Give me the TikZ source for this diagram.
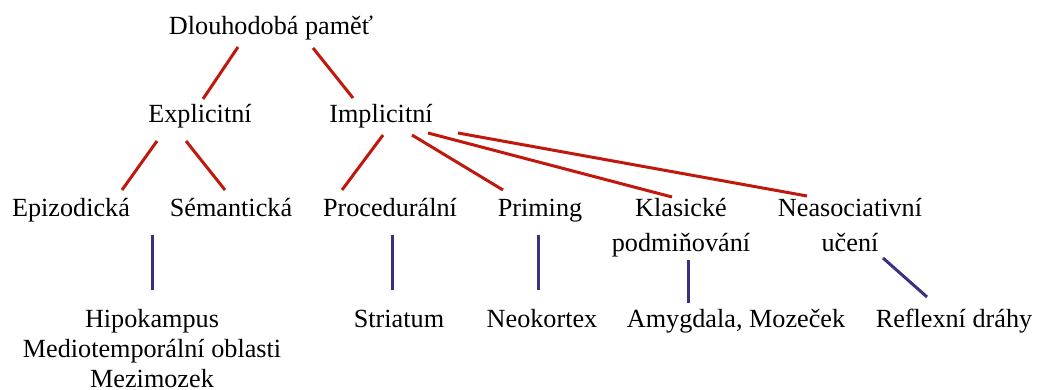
\documentclass[tikz,border=0pt]{standalone}
\usepackage{fontspec}
\setmainfont{Liberation Serif}
\definecolor{treered}{HTML}{C0180C}
\definecolor{areablue}{HTML}{3A3080}
\begin{document}
\begin{tikzpicture}[x=1pt,y=-1pt,
  lbl/.style={anchor=base,inner sep=0pt,align=center,
    font=\fontsize{26.2}{30}\selectfont},
  kind/.style={draw=treered,line width=3pt},
  area/.style={draw=areablue,line width=3pt}]
\useasboundingbox (0,0) rectangle (1037,390);

% memory types (multi-line labels are placed by their last baseline)
\node[lbl] (top)  at (271,35)  {Dlouhodobá paměť};
\node[lbl] (expl) at (200,123) {Explicitní};
\node[lbl] (impl) at (381,123) {Implicitní};
\node[lbl] (epi)  at (71,217)  {Epizodická};
\node[lbl] (sem)  at (231,217) {Sémantická};
\node[lbl] (proc) at (390,217) {Procedurální};
\node[lbl] (prim) at (540,217) {Priming};
\node[lbl] (klas) at (681,252) {Klasické\\[5pt]podmiňování};
\node[lbl] (neas) at (850,252) {Neasociativní\\[5pt]učení};

% brain structures
\node[lbl] (hipo) at (152,387) {Hipokampus\\Mediotemporální oblasti\\Mezimozek};
\node[lbl] (stri) at (399,327) {Striatum};
\node[lbl] (neo)  at (542,327) {Neokortex};
\node[lbl] (amyg) at (736,327) {Amygdala, Mozeček};
\node[lbl] (refl) at (954,327) {Reflexní dráhy};

% connector ends
\coordinate (top-e) at (238,47);  \coordinate (e-top) at (203,99);
\coordinate (top-i) at (313,48);  \coordinate (i-top) at (353,98);
\coordinate (e-ep)  at (157,141); \coordinate (ep-e)  at (122,190);
\coordinate (e-se)  at (186,141); \coordinate (se-e)  at (225,190);
\coordinate (i-pr)  at (383,135); \coordinate (pr-i)  at (342,190);
\coordinate (i-pm)  at (412,135); \coordinate (pm-i)  at (503,190);
\coordinate (i-kl)  at (428,133); \coordinate (kl-i)  at (672,197);
\coordinate (i-ne)  at (458,133); \coordinate (ne-i)  at (807,196);

\coordinate (ex-hi) at (152,235); \coordinate (hi-ex) at (152,290);
\coordinate (pr-st) at (392,235); \coordinate (st-pr) at (392,290);
\coordinate (pm-no) at (538,235); \coordinate (no-pm) at (538,290);
\coordinate (kl-am) at (688,260); \coordinate (am-kl) at (688,303);
\coordinate (ne-rf) at (883,258); \coordinate (rf-ne) at (927,297);

% hierarchy
\draw[kind] (top-e) -- (e-top);
\draw[kind] (top-i) -- (i-top);
\draw[kind] (e-ep) -- (ep-e);
\draw[kind] (e-se) -- (se-e);
\draw[kind] (i-pr) -- (pr-i);
\draw[kind] (i-pm) -- (pm-i);
\draw[kind] (i-kl) -- (kl-i);
\draw[kind] (i-ne) -- (ne-i);

% localisation
\draw[area] (ex-hi) -- (hi-ex);
\draw[area] (pr-st) -- (st-pr);
\draw[area] (pm-no) -- (no-pm);
\draw[area] (kl-am) -- (am-kl);
\draw[area] (ne-rf) -- (rf-ne);
\end{tikzpicture}
\end{document}
